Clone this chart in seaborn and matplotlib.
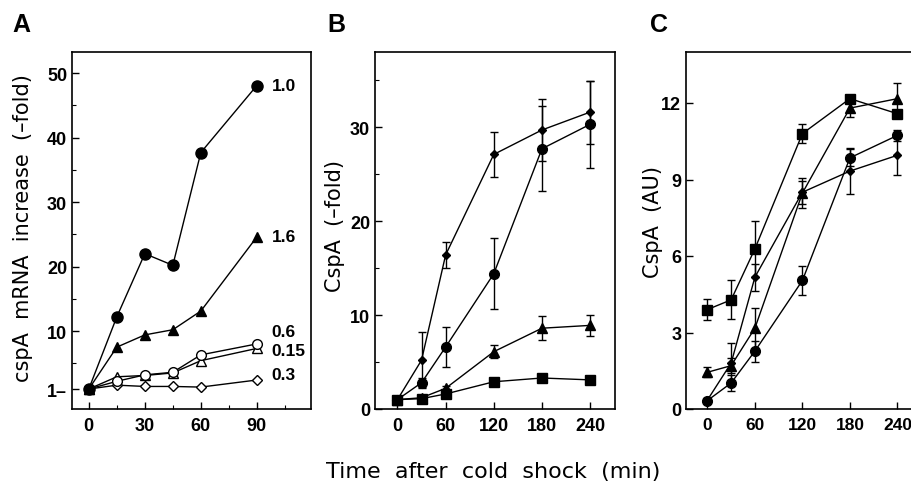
import matplotlib
matplotlib.use("Agg")
import matplotlib.pyplot as plt
import seaborn as sns
import pandas as pd
from matplotlib.ticker import FixedLocator

# ---------------- data ----------------
# Panel A: cspA mRNA increase (-fold), labelled by series
a_time = [0, 15, 30, 45, 60, 90]
a_10 = [1.0, 12.2, 22.0, 20.2, 37.7, 48.1]
a_16 = [1.0, 7.5, 9.4, 10.2, 13.1, 24.6]
a_06 = [1.0, 2.2, 3.2, 3.6, 6.3, 8.0]
a_015 = [1.0, 2.9, 3.1, 3.5, 5.4, 7.3]
a_03 = [1.0, 1.6, 1.4, 1.4, 1.3, 2.4]
a_series_labels = ["1.0", "1.6", "0.6", "0.15", "0.3"]

# Panel B: CspA (-fold)
b_time = [0, 30, 60, 120, 180, 240]
b_diamond = [1.0, 5.2, 16.4, 27.1, 29.7, 31.6]
b_diamond_err = [0.0, 3.0, 1.35, 2.4, 3.3, 3.35]
b_circle = [1.0, 2.8, 6.6, 14.4, 27.7, 30.3]
b_circle_err = [0.0, 0.5, 2.15, 3.8, 4.5, 4.65]
b_triangle = [1.0, 1.2, 2.2, 6.1, 8.6, 8.9]
b_triangle_err = [0.0, 0.0, 0.3, 0.7, 1.3, 1.15]
b_square = [1.0, 1.1, 1.6, 2.9, 3.3, 3.1]

# Panel C: CspA (AU)
c_time = [0, 30, 60, 120, 180, 240]
c_square = [3.9, 4.28, 6.28, 10.8, 12.17, 11.58]
c_square_err = [0.42, 0.76, 1.1, 0.36, 0.1, 0.15]
c_triangle = [1.44, 1.7, 3.17, 8.47, 11.8, 12.17]
c_triangle_err = [0.2, 0.3, 0.8, 0.6, 0.35, 0.6]
c_diamond = [0.35, 1.8, 5.17, 8.5, 9.33, 9.95]
c_diamond_err = [0.05, 0.8, 0.53, 0.45, 0.9, 0.79]
c_circle = [0.33, 1.02, 2.27, 5.04, 9.85, 10.73]
c_circle_err = [0.1, 0.3, 0.41, 0.58, 0.33, 0.22]

a_yticks = [1, 10, 20, 30, 40, 50]
a_yticklabels = ["1\u2013", "10", "20", "30", "40", "50"]
a_xticks = [0, 30, 60, 90]
b_yticks = [0, 10, 20, 30]
c_yticks = [0, 3, 6, 9, 12]
bc_xticks = [0, 60, 120, 180, 240]

# ---------------- style ----------------
sns.set_style("ticks")
plt.rcParams["font.family"] = ["Liberation Sans", "DejaVu Sans"]
plt.rcParams["axes.linewidth"] = 1.2
for k in ["text.color", "axes.labelcolor", "xtick.color", "ytick.color",
          "axes.edgecolor", "xtick.labelcolor", "ytick.labelcolor"]:
    plt.rcParams[k] = "black"

fig = plt.figure(figsize=(9.12, 4.85), dpi=100)
W, H = 912, 485
axA = fig.add_axes([72 / W, 75 / H, 239 / W, 357 / H])
axB = fig.add_axes([375 / W, 75 / H, 240 / W, 357 / H])
axC = fig.add_axes([686 / W, 75 / H, 236 / W, 357 / H])


def draw(ax, x, y, marker, ms, filled=True, err=None):
    df = pd.DataFrame({"t": x, "v": y})
    if err is not None:
        ax.errorbar(x, y, yerr=err, fmt="none", ecolor="black",
                    elinewidth=1.0, capsize=3.2, capthick=1.0, zorder=2)
    sns.lineplot(data=df, x="t", y="v", ax=ax, color="black", lw=1.0,
                 marker=marker, markersize=ms,
                 markerfacecolor="black" if filled else "white",
                 markeredgecolor="black", markeredgewidth=1.0,
                 errorbar=None, zorder=3)


TL = dict(fontweight="bold", fontsize=13)

# Panel A
draw(axA, a_time, a_03, "D", 5.0, filled=False)
draw(axA, a_time, a_015, "^", 6.5, filled=False)
draw(axA, a_time, a_06, "o", 7.0, filled=False)
draw(axA, a_time, a_16, "^", 7.0)
draw(axA, a_time, a_10, "o", 8.0)
for lab, yv in zip(a_series_labels, [a_10[-1], a_16[-1], 10.0, 7.0, 3.2]):
    axA.text(98, yv, lab, fontsize=12.5, fontweight="bold", va="center", ha="left")
axA.set_xlim(-9, 119)
axA.set_ylim(-2.1, 53.3)
axA.set_xticks(a_xticks, [str(v) for v in a_xticks], **TL)
axA.set_yticks(a_yticks, a_yticklabels, **TL)
axA.xaxis.set_minor_locator(FixedLocator([15, 45, 75, 105]))
axA.yaxis.set_minor_locator(FixedLocator([5, 15, 25, 35, 45]))

# Panel B
draw(axB, b_time, b_square, "s", 6.5)
draw(axB, b_time, b_triangle, "^", 6.5, err=b_triangle_err)
draw(axB, b_time, b_circle, "o", 7.0, err=b_circle_err)
draw(axB, b_time, b_diamond, "D", 4.5, err=b_diamond_err)
axB.set_xlim(-28, 271)
axB.set_ylim(0, 38)
axB.set_xticks(bc_xticks, [str(v) for v in bc_xticks], **TL)
axB.set_yticks(b_yticks, [str(v) for v in b_yticks], **TL)
axB.yaxis.set_minor_locator(FixedLocator([5, 15, 25, 35]))

# Panel C
draw(axC, c_time, c_square, "s", 6.5, err=c_square_err)
draw(axC, c_time, c_triangle, "^", 6.5, err=c_triangle_err)
draw(axC, c_time, c_diamond, "D", 4.5, err=c_diamond_err)
draw(axC, c_time, c_circle, "o", 7.0, err=c_circle_err)
axC.set_xlim(-27, 271)
axC.set_ylim(0, 14)
axC.set_xticks(bc_xticks, [str(v) for v in bc_xticks], fontweight="bold", fontsize=12.5)
axC.set_yticks(c_yticks, [str(v) for v in c_yticks], **TL)

for ax in (axA, axB, axC):
    ax.tick_params(which="major", direction="in", length=5, width=1.0)
    ax.tick_params(axis="x", which="major", pad=6)
    ax.tick_params(axis="y", which="major", pad=3.5)
    ax.tick_params(which="minor", direction="in", length=3, width=0.8)
    for s in ax.spines.values():
        s.set_visible(True)
        s.set_linewidth(1.2)
        s.set_color("black")
    ax.set_xlabel("")

ylab_font = dict(fontsize=15, family=["DejaVu Sans"])
axA.set_ylabel("cspA  mRNA  increase  (\u2013fold)", **ylab_font)
axA.yaxis.set_label_coords(-0.165, 0.51)
axB.set_ylabel("CspA  (\u2013fold)", **ylab_font)
axB.yaxis.set_label_coords(-0.125, 0.515)
axC.set_ylabel("CspA  (AU)", **ylab_font)
axC.yaxis.set_label_coords(-0.097, 0.527)

fig.text(493 / W, 1 - 472 / H, "Time  after  cold  shock  (min)",
         fontsize=16, family=["DejaVu Sans"], ha="center", va="center")

for lab, xp in zip(["A", "B", "C"], [12, 327, 650]):
    fig.text(xp / W, 1 - 32 / H, lab, fontsize=18, fontweight="bold",
             ha="left", va="baseline")

fig.savefig("out.png", dpi=100)
